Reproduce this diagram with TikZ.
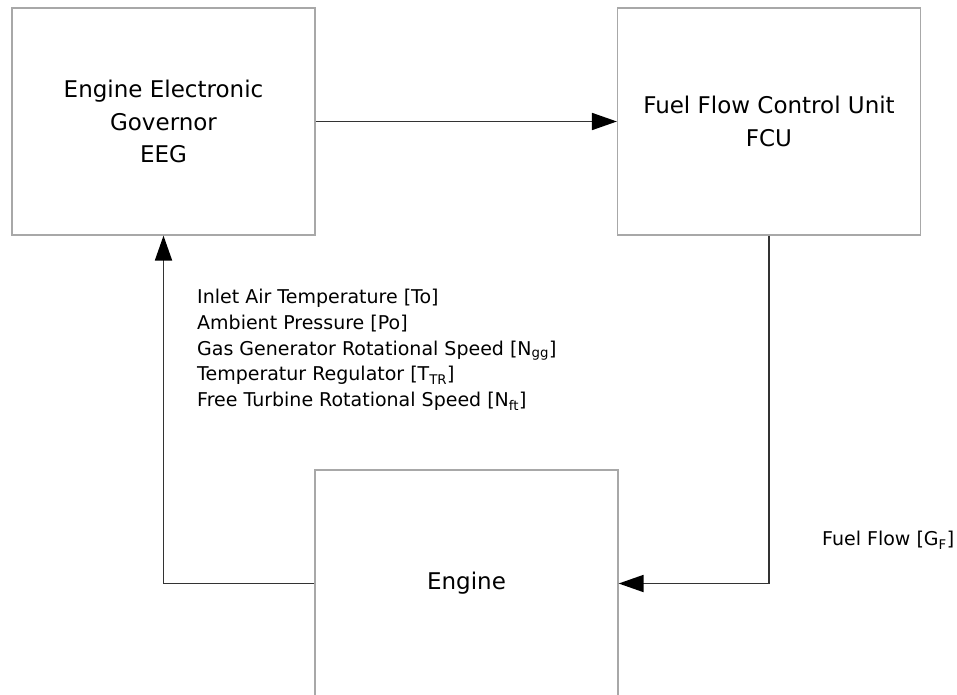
\documentclass[tikz,border=0pt]{standalone}
\usepackage{fontspec}
\setmainfont{DejaVu Sans}
\usetikzlibrary{arrows.meta}
\definecolor{BoxClr}{rgb}{0.66,0.66,0.66}
\definecolor{LinkClr}{rgb}{0.2,0.2,0.2}

\begin{document}
\begin{tikzpicture}[x=1pt,y=-1pt,
  UnitBox/.style={draw=BoxClr,line width=1.2pt,minimum width=303pt,minimum height=227pt,
    inner sep=0pt,align=center,font=\fontsize{23}{32.5}\selectfont},
  SignalTxt/.style={anchor=north west,inner sep=0pt,align=left,font=\fontsize{19}{25.7}\selectfont},
  FlowLink/.style={draw=LinkClr,line width=1.8pt,-{Triangle[length=25pt,width=17pt,color=black]}}]

\useasboundingbox (0,0) rectangle (957,695);
\clip (0,0) rectangle (957,695);

\node[UnitBox] (EEG) at (163.5,121.5) {Engine Electronic\\Governor\\EEG};
\node[UnitBox] (FCU) at (769,121.5) {Fuel Flow Control Unit\\FCU};
\node[UnitBox] (Engine) at (466.5,583.5) {Engine};

\draw[FlowLink] (EEG) -- (FCU);
\draw[FlowLink] (FCU.south) |- (Engine.east);
\draw[FlowLink] (Engine.west) -| (EEG.south);

\node[SignalTxt] (Sensors) at (197,289) {Inlet Air Temperature [To]\\
  Ambient Pressure [Po]\\
  Gas Generator Rotational Speed [N\textsubscript{gg}]\\
  Temperatur Regulator [T\textsubscript{TR}]\\
  Free Turbine Rotational Speed [N\textsubscript{ft}]};
\node[SignalTxt] (FuelFlow) at (822,531) {Fuel Flow [G\textsubscript{F}]};

\end{tikzpicture}
\end{document}
